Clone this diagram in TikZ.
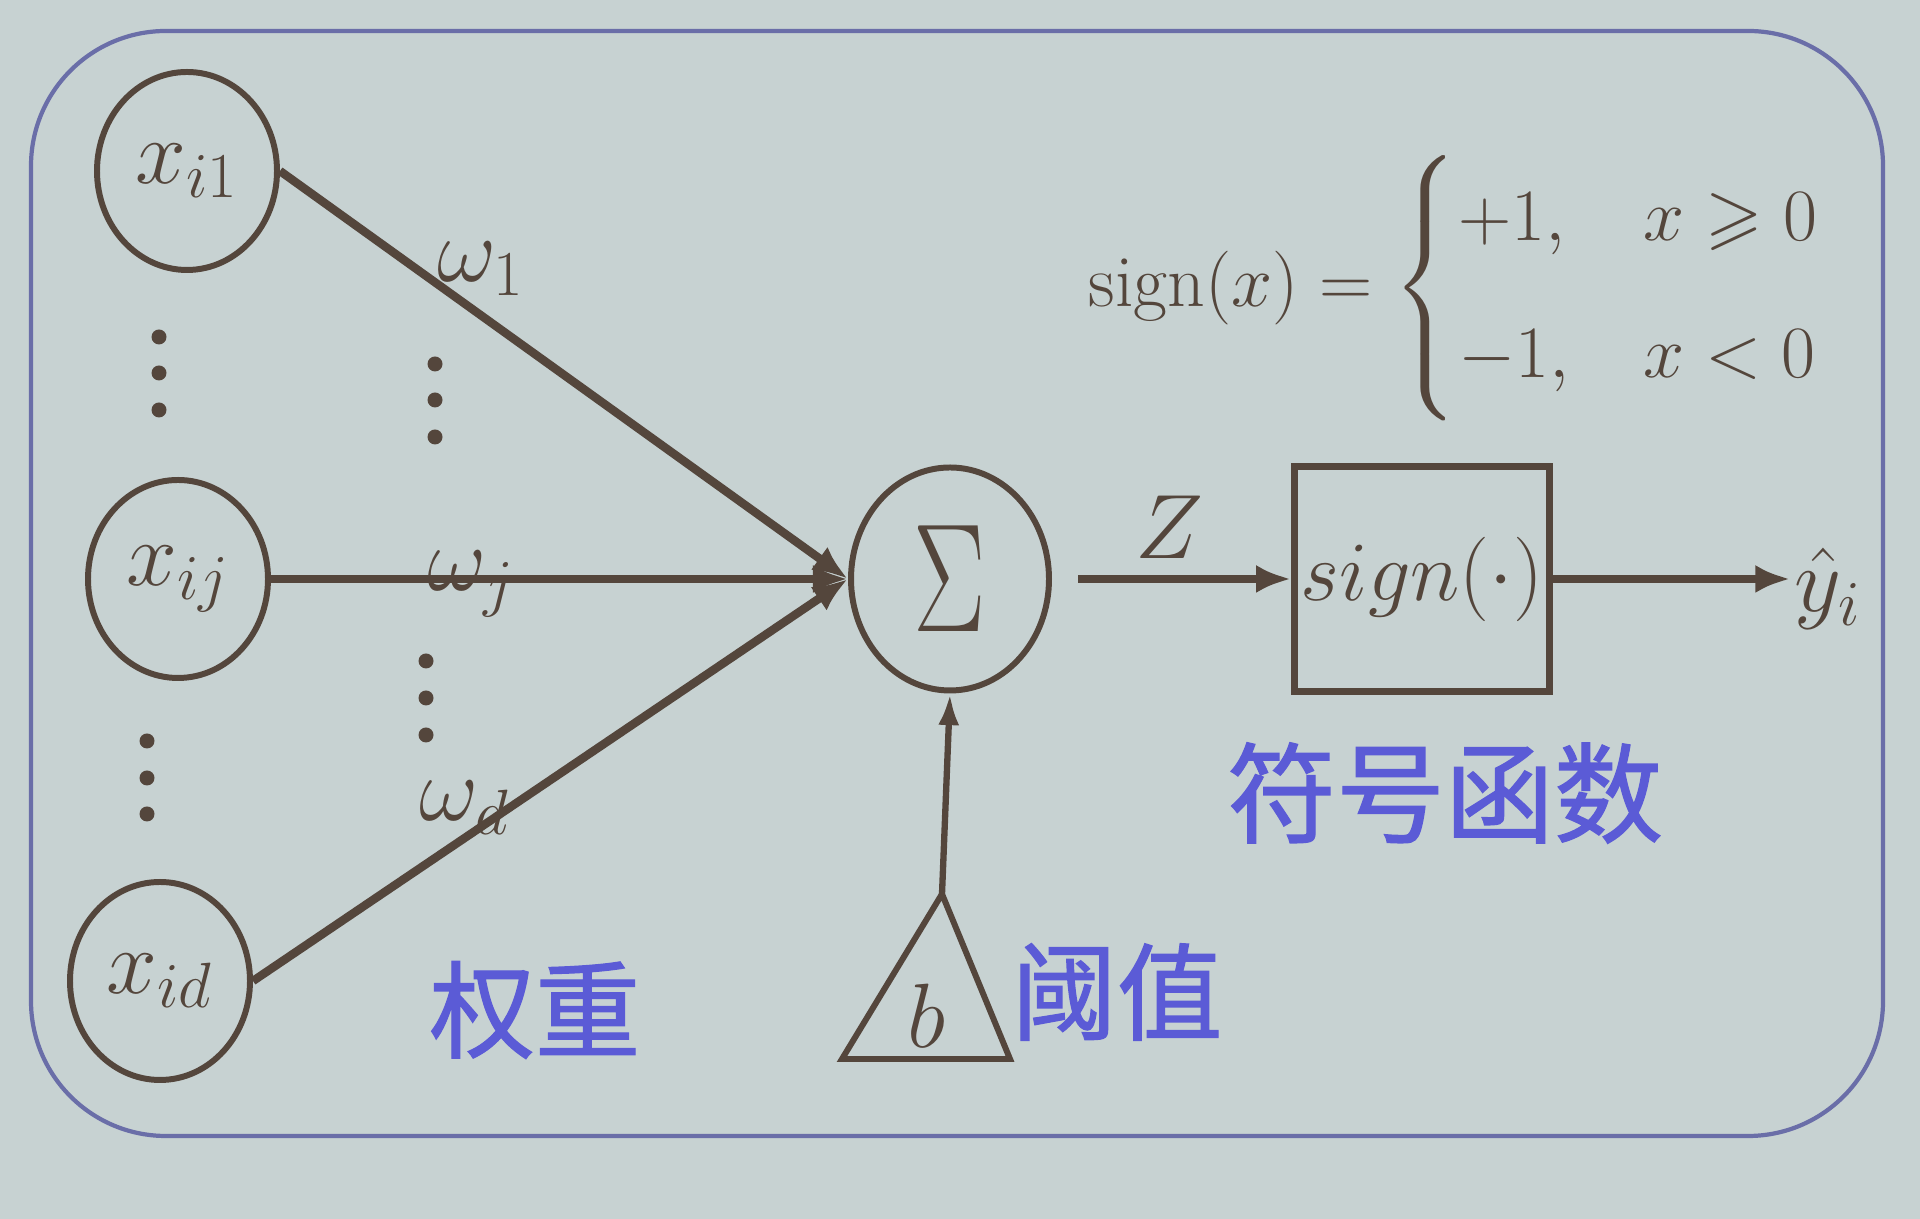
\RequirePackage{fix-cm}
\documentclass[tikz,border=0pt]{standalone}
\usepackage{amsmath,amssymb}
\usepackage{fontspec}
\newfontfamily\cjk{Noto Sans CJK SC}[FakeBold=1.2]
\usetikzlibrary{arrows.meta,shapes.geometric,positioning,calc}
\definecolor{slidebg}{HTML}{C7D2D2}
\definecolor{inkbrown}{HTML}{54463C}
\definecolor{frameblue}{HTML}{6A6EA8}
\definecolor{labelblue}{HTML}{5B5BD6}

\begin{document}
\begin{tikzpicture}[
        >={Latex[length=10pt,width=8pt]},
        every node/.style={font=\fontsize{26}{30}\selectfont, text=inkbrown},
        inp/.style={draw=inkbrown, ellipse, line width=1.7pt, minimum width=1.80cm, minimum height=1.98cm, inner sep=0pt},
        wire/.style={draw=inkbrown, line width=2.4pt},
        cjklabel/.style={font=\cjk\fontsize{30}{34}\selectfont, text=labelblue},
    ]
        \fill[slidebg] (0,0) rectangle (19.2,12.19);
        \useasboundingbox (0,0) rectangle (19.2,12.19);
        \draw[frameblue, line width=1.2pt, rounded corners=1.35cm] (0.31,0.83) rectangle (18.83,11.88);

        % inputs
        \node[inp] (xi1) at (1.87,10.48) {$x_{i1}$};
        \node[inp] (xij) at (1.78,6.40) {$x_{ij}$};
        \node[inp] (xid) at (1.60,2.38) {$x_{id}$};

        % summation and sign unit
        \node[draw=inkbrown, ellipse, line width=1.7pt, minimum width=1.98cm, minimum height=2.23cm, inner sep=0pt] (sum) at (9.50,6.40)
            {\fontsize{44}{48}\selectfont\scalebox{0.7}[1]{$\Sigma$}};
        \node[draw=inkbrown, line width=1.9pt, minimum width=2.55cm, minimum height=2.25cm, inner sep=0pt] (signbox) at (14.22,6.40)
            {\fontsize{24}{28}\selectfont$sign(\cdot)$};
        \node[inner sep=1pt] (yhat) at (18.28,6.30) {$\hat{y}_i$};

        % bias
        \coordinate (bapex) at (9.42,3.25);
        \draw[inkbrown, line width=1.7pt] (bapex) -- (8.42,1.60) -- (10.10,1.60) -- cycle;
        \node (bval) at (9.27,2.03) {$b$};

        \foreach \y in {8.82,8.46,8.09} \fill[inkbrown] (1.59,\y) circle (0.075);
        \foreach \y in {4.78,4.41,4.05} \fill[inkbrown] (1.47,\y) circle (0.075);
        \foreach \y in {8.55,8.19,7.82} \fill[inkbrown] (4.35,\y) circle (0.075);
        \foreach \y in {5.58,5.21,4.84} \fill[inkbrown] (4.26,\y) circle (0.075);

        \draw[wire,->] (xi1.east) -- (sum.west);
        \draw[wire,->] (xij.east) -- (sum.west);
        \draw[wire,->] (xid.east) -- (sum.west);
        \draw[wire,->] ([xshift=0.26cm]sum.east) -- (signbox.west);
        \draw[wire,->] (signbox.east) -- (signbox.east -| yhat.west);
        \draw[inkbrown, line width=1.8pt, -{Latex[length=9pt,width=6pt]}] (bapex) -- (sum.south);

        \node (w1) at (4.81,9.50) {$\omega_1$};
        \node (wj) at (4.71,6.35) {$\omega_j$};
        \node (wd) at (4.65,4.11) {$\omega_d$};
        \node (zlab) at (11.69,6.92) {$Z$};

        \node[font=\fontsize{21}{25}\selectfont] (signdef) at (14.55,9.31)
            {$\mathrm{sign}(x)=\begin{cases}+1, & x\geqslant 0\\[9pt] -1, & x<0\end{cases}$};

        \node[cjklabel] (wlab) at (5.35,2.09) {权重};
        \node[cjklabel] (blab) at (11.17,2.27) {阈值};
        \node[cjklabel, font=\cjk\fontsize{31}{35}\selectfont] (slab) at (14.45,4.26) {符号函数};
    \end{tikzpicture}
\end{document}
